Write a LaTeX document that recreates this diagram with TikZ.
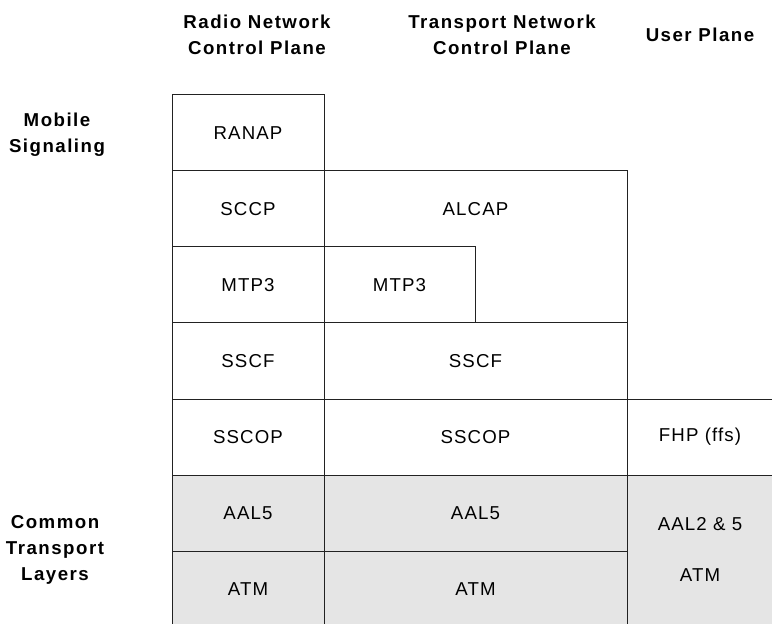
\documentclass[tikz,border=0pt]{standalone}
\usepackage{fontspec}
\setmainfont{Liberation Sans}
\usepackage{tikz}
\definecolor{stackGray}{HTML}{E5E5E5}
\definecolor{stackLine}{HTML}{222222}
\newcommand{\hdrfont}{\fontsize{14pt}{19.5pt}\selectfont\bfseries\addfontfeatures{LetterSpace=8}}
\newcommand{\layfont}{\fontsize{14pt}{17pt}\selectfont\addfontfeatures{LetterSpace=6}}

\begin{document}
\begin{tikzpicture}[x=0.75pt, y=-0.75pt,
    layer/.style={draw=stackLine, line width=0.75pt},
    common/.style={layer, fill=stackGray},
    txt/.style={font=\layfont},
    hdr/.style={align=center, font=\hdrfont}]
    \useasboundingbox (0,0) rectangle (772,624);
    % plane headings
    \node[hdr] (radio) at (257,35) {Radio Network\\Control Plane};
    \node[hdr] (transport) at (502,35) {Transport Network\\Control Plane};
    \node[hdr] (user) at (700,35) {User Plane};
    \node[hdr] (mobile) at (57,135) {Mobile\\Signaling};
    \node[hdr] (common) at (55,550) {Common\\Transport\\Layers};
    % common transport layers (shaded)
    \path[common] (172,475) rectangle (324,551);
    \path[common] (172,551) rectangle (324,640);
    \path[common] (324,475) rectangle (627,551);
    \path[common] (324,551) rectangle (627,640);
    \path[common] (627,475) rectangle (790,640);
    \node[txt] (aalA) at (248,513) {AAL5};
    \node[txt] (atmA) at (248,589) {ATM};
    \node[txt] (aalB) at (475.5,513) {AAL5};
    \node[txt] (atmB) at (475.5,589) {ATM};
    \node[txt] (aalU) at (700,524) {AAL2 \& 5};
    \node[txt] (atmU) at (700,575) {ATM};
    % radio network control plane
    \path[layer] (172,95) rectangle (324,171);
    \path[layer] (172,171) rectangle (324,247);
    \path[layer] (172,247) rectangle (324,323);
    \path[layer] (172,323) rectangle (324,399);
    \path[layer] (172,399) rectangle (324,475);
    \node[txt] (ranap) at (248,133) {RANAP};
    \node[txt] (sccp) at (248,209) {SCCP};
    \node[txt] (mtpA) at (248,285) {MTP3};
    \node[txt] (sscfA) at (248,361) {SSCF};
    \node[txt] (sscopA) at (248,437) {SSCOP};
    % transport network control plane
    \path[layer] (324,171) rectangle (627,323);
    \path[layer] (324,247) rectangle (475,323);
    \path[layer] (324,323) rectangle (627,399);
    \path[layer] (324,399) rectangle (627,475);
    \node[txt] (alcap) at (475.5,209) {ALCAP};
    \node[txt] (mtpB) at (399.5,285) {MTP3};
    \node[txt] (sscfB) at (475.5,361) {SSCF};
    \node[txt] (sscopB) at (475.5,437) {SSCOP};
    % user plane
    \path[layer] (627,399) rectangle (790,475);
    \node[txt] (fhp) at (700,437) {FHP (ffs)};
\end{tikzpicture}
\end{document}
